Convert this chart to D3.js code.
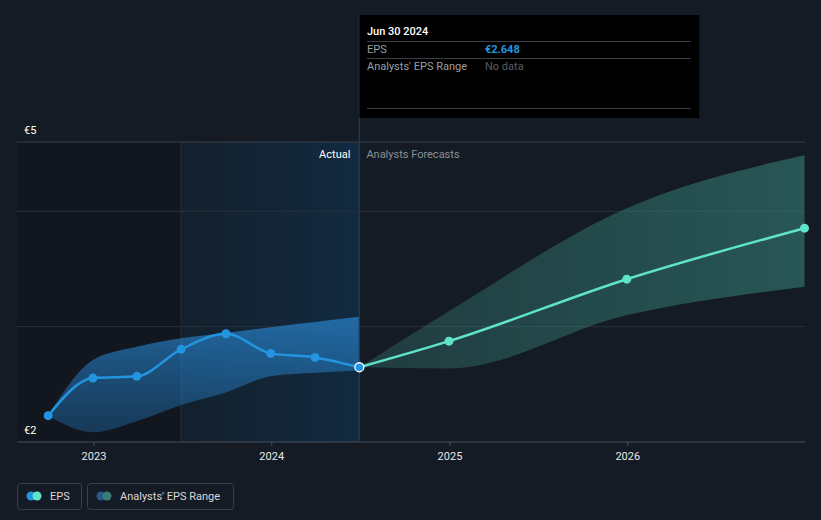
<!DOCTYPE html>
<html><head><meta charset="utf-8">
<script src="https://cdn.jsdelivr.net/npm/d3@7"></script>
<style>
html,body{margin:0;padding:0;background:#151b24;}
svg{display:block;font-family:Roboto,"Open Sans",sans-serif;}
</style></head>
<body><svg id="c" width="821" height="520"></svg>
<script>
// ---- data ----
const actualDates = ["2022-09-30","2022-12-31","2023-03-31","2023-06-30","2023-09-30","2023-12-31","2024-03-31","2024-06-30"];
const actualEPS   = [2.228, 2.554, 2.569, 2.803, 2.938, 2.768, 2.733, 2.648];
const actualLow   = [2.228, 2.085, 2.180, 2.320, 2.430, 2.570, 2.600, 2.620];
const actualHigh  = [2.228, 2.710, 2.825, 2.900, 2.945, 2.995, 3.040, 3.085];
const fcDates = ["2024-06-30","2024-12-31","2025-12-31","2026-12-31"];
const fcEPS   = [2.648, 2.874, 3.411, 3.853];
const fcLow   = [2.648, 2.638, 3.100, 3.345];
const fcHigh  = [2.648, 3.134, 4.026, 4.485];
const yTickValues = [2, 3, 4];
const yLabels = ["€2", "€5"];
const xTickYears = [2023, 2024, 2025, 2026];
const tooltipDate = "Jun 30 2024";
const tooltipEPS = "€2.648";

const p = d3.timeParse("%Y-%m-%d");
const svg = d3.select("#c");
const x = d3.scaleTime().domain([p("2022-07-28"), p("2027-01-01")]).range([17, 805]);
const y = d3.scaleLinear().domain([2, 4.6]).range([442, 142]);

const defs = svg.append("defs");
const g1 = defs.append("linearGradient").attr("id","hl").attr("x1",0).attr("x2",1).attr("y1",0).attr("y2",0);
g1.append("stop").attr("offset","0%").attr("stop-color","#13202d");
g1.append("stop").attr("offset","100%").attr("stop-color","#122a40");
const g2 = defs.append("linearGradient").attr("id","ab").attr("x1",0).attr("x2",0).attr("y1",0).attr("y2",1);
g2.append("stop").attr("offset","0%").attr("stop-color","#2783cc").attr("stop-opacity",0.72);
g2.append("stop").attr("offset","100%").attr("stop-color","#2172b4").attr("stop-opacity",0.38);
const g3 = defs.append("linearGradient").attr("id","fb").attr("gradientUnits","userSpaceOnUse")
  .attr("x1",360).attr("x2",805).attr("y1",0).attr("y2",0);
g3.append("stop").attr("offset","0%").attr("stop-color","#3f9f92").attr("stop-opacity",0.25);
g3.append("stop").attr("offset","100%").attr("stop-color","#3f9f92").attr("stop-opacity",0.45);

const xNow = x(p("2024-06-30"));
const xYearAgo = x(p("2023-06-30"));
svg.append("rect").attr("x", x.range()[0]).attr("y", y(4.6)).attr("width", xYearAgo - x.range()[0]).attr("height", y(2) - y(4.6)).attr("fill","#12161e");
svg.append("rect").attr("x", xYearAgo).attr("y", y(4.6)).attr("width", xNow - xYearAgo).attr("height", y(2) - y(4.6)).attr("fill","url(#hl)");
svg.append("line").attr("x1",xYearAgo).attr("x2",xYearAgo).attr("y1",y(4.6)).attr("y2",y(2)).attr("stroke","#1f3346").attr("stroke-width",1);

svg.append("g").selectAll("line").data(yTickValues.concat([4.6])).join("line")
  .attr("x1", 17).attr("x2", 805).attr("y1", d => y(d)).attr("y2", d => y(d))
  .attr("stroke", (d) => d === 2 ? "#4a4f59" : (d === 4.6 ? "#3a3f48" : "#2a303a")).attr("stroke-width", 1);

svg.append("text").attr("x", 24).attr("y", y(4.6) - 8).attr("fill","#fff").attr("font-size",11).text(yLabels[1]);
svg.append("text").attr("x", 24).attr("y", y(2) - 8).attr("fill","#fff").attr("font-size",11).text(yLabels[0]);

const xAxis = d3.axisBottom(x).tickValues(xTickYears.map(v => new Date(v,0,1))).tickFormat(d3.timeFormat("%Y")).tickSize(4).tickPadding(6);
const ax = svg.append("g").attr("transform", `translate(0,${y(2)})`).call(xAxis);
ax.select(".domain").remove();
ax.selectAll(".tick line").attr("stroke","#4a4f59");
ax.selectAll(".tick text").attr("fill","#e8e8e8").attr("font-size",11).attr("font-family","Roboto,sans-serif");

const A = actualDates.map((d,i) => ({d:p(d), v:actualEPS[i], lo:actualLow[i], hi:actualHigh[i]}));
const F = fcDates.map((d,i) => ({d:p(d), v:fcEPS[i], lo:fcLow[i], hi:fcHigh[i]}));
const curve = d3.curveMonotoneX;
svg.append("path").datum(A).attr("fill","url(#ab)")
  .attr("d", d3.area().x(d=>x(d.d)).y0(d=>y(d.lo)).y1(d=>y(d.hi)).curve(curve));
svg.append("path").datum(F).attr("fill","url(#fb)")
  .attr("d", d3.area().x(d=>x(d.d)).y0(d=>y(d.lo)).y1(d=>y(d.hi)).curve(curve));

svg.append("line").attr("x1",xNow).attr("x2",xNow).attr("y1",15).attr("y2",y(2)).attr("stroke","#1f3a55").attr("stroke-width",1.5);

svg.append("text").attr("x", xNow - 9).attr("y", 158).attr("text-anchor","end").attr("fill","#fff").attr("font-size",11).text("Actual");
svg.append("text").attr("x", xNow + 7).attr("y", 158).attr("fill","#8a8f96").attr("font-size",11).text("Analysts Forecasts");

svg.append("path").datum(A).attr("fill","none").attr("stroke","#2394df").attr("stroke-width",2.5)
  .attr("d", d3.line().x(d=>x(d.d)).y(d=>y(d.v)).curve(curve));
svg.append("path").datum(F).attr("fill","none").attr("stroke","#5fe3c9").attr("stroke-width",2.5)
  .attr("d", d3.line().x(d=>x(d.d)).y(d=>y(d.v)).curve(curve));

svg.append("g").selectAll("circle").data(A.slice(0,-1)).join("circle")
  .attr("cx", d=>x(d.d)).attr("cy", d=>y(d.v)).attr("r",4.5).attr("fill","#2394df");
svg.append("g").selectAll("circle").data(F.slice(1)).join("circle")
  .attr("cx", d=>x(d.d)).attr("cy", d=>y(d.v)).attr("r",4.5).attr("fill","#5fe3c9");
const last = A[A.length-1];
svg.append("circle").attr("cx", x(last.d)).attr("cy", y(last.v)).attr("r",4.5).attr("fill","#2394df").attr("stroke","#fff").attr("stroke-width",1.3);

const tt = svg.append("g");
tt.append("rect").attr("x", xNow).attr("y", 15).attr("width", 340).attr("height", 103).attr("fill","#000");
tt.append("text").attr("x", 367).attr("y", 35).attr("fill","#fff").attr("font-size",11).attr("font-weight",500).text(tooltipDate);
[41, 58, 108].forEach(yy => tt.append("line").attr("x1",367).attr("x2",691).attr("y1",yy+0.5).attr("y2",yy+0.5).attr("stroke","#3a3d42"));
tt.append("text").attr("x", 367).attr("y", 53).attr("fill","#9a9ea4").attr("font-size",11).text("EPS");
tt.append("text").attr("x", 485).attr("y", 53).attr("fill","#2394df").attr("font-size",11).attr("font-weight",700).text(tooltipEPS);
tt.append("text").attr("x", 367).attr("y", 70).attr("fill","#9a9ea4").attr("font-size",11).text("Analysts' EPS Range");
tt.append("text").attr("x", 485).attr("y", 70).attr("fill","#5a5e64").attr("font-size",11).text("No data");

const lg = svg.append("g");
function item(x0, w, c1, c2, label){
  lg.append("rect").attr("x", x0+0.5).attr("y", 483.5).attr("width", w).attr("height", 26).attr("rx",3)
    .attr("fill","none").attr("stroke","#3a3f48");
  lg.append("circle").attr("cx", x0+14).attr("cy", 496).attr("r",4.5).attr("fill",c1);
  lg.append("circle").attr("cx", x0+20).attr("cy", 496).attr("r",4.5).attr("fill",c2);
  lg.append("text").attr("x", x0+33).attr("y", 500).attr("fill","#d8d8d8").attr("font-size",11).text(label);
}
item(17, 64, "#2394df", "#5fe3c9", "EPS");
item(87, 146, "#1f5a8a", "#3a7d74", "Analysts' EPS Range");
</script></body></html>
